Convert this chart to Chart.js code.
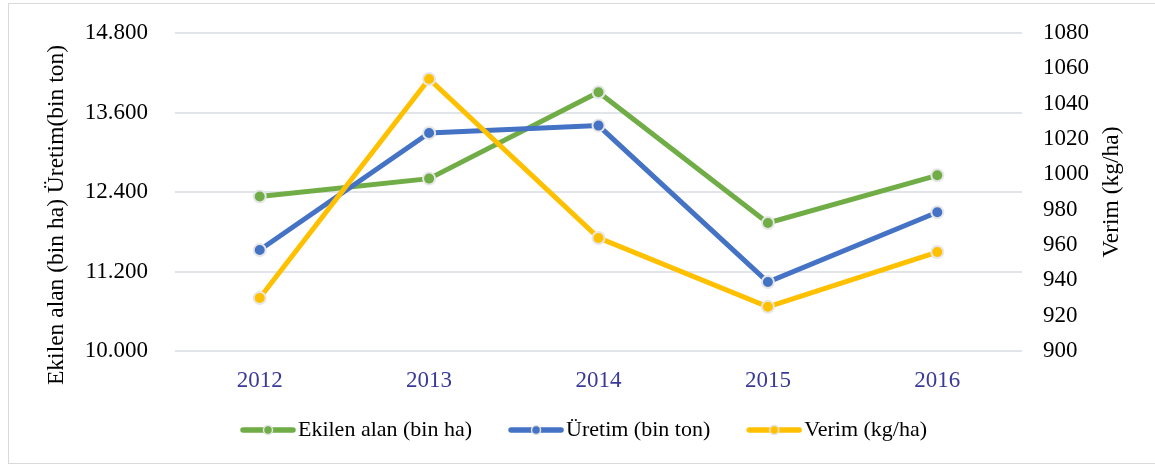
<!DOCTYPE html>
<html>
<head>
<meta charset="utf-8">
<script src="https://cdn.jsdelivr.net/npm/chart.js@4"></script>
<style>
  html, body { margin: 0; padding: 0; background: #fff; }
  #frame { position: absolute; left: 8px; top: 3px; width: 1160px; height: 461px; border: 1px solid #d9d9d9; box-sizing: border-box; }
  #wrap { position: absolute; left: 0; top: 0; width: 1155px; height: 466px; }
</style>
</head>
<body>
<div id="frame"></div>
<div id="wrap"><canvas id="c" width="1155" height="466"></canvas></div>
<script>
// data
var years = ['2012', '2013', '2014', '2015', '2016'];
var ekilenAlan = [12331, 12602, 13905, 11932, 12652];   // bin ha
var uretim = [11525, 13291, 13402, 11042, 12094];       // bin ton
var verim = [930, 1054, 964, 925, 956];                 // kg/ha
var seriesNames = ['Ekilen alan (bin ha)', 'Üretim (bin ton)', 'Verim (kg/ha)'];
var seriesColors = ['#70AD47', '#4472C4', '#FFC000'];
var leftTitle = 'Ekilen alan (bin ha) Üretim(bin ton)';
var rightTitle = 'Verim (kg/ha)';

var FONT = '"Liberation Serif", "Times New Roman", serif';

function dotted(v) {
  return String(Math.round(v)).replace(/\B(?=(\d{3})+(?!\d))/g, '.');
}

// legend sample: short thick line with a marker in the middle
function legendMark(color) {
  var c = document.createElement('canvas');
  c.width = 91; c.height = 16;
  var g = c.getContext('2d');
  g.strokeStyle = color; g.lineWidth = 5.5; g.lineCap = 'round';
  g.beginPath(); g.moveTo(38, 8); g.lineTo(88, 8); g.stroke();
  g.beginPath(); g.arc(63, 8, 4.5, 0, Math.PI * 2);
  g.fillStyle = color; g.fill();
  g.lineWidth = 1.5; g.strokeStyle = '#e4e4e4'; g.stroke();
  return c;
}
var marks = seriesColors.map(legendMark);

var axisTitles = {
  id: 'axisTitles',
  afterDraw: function (chart) {
    var ctx = chart.ctx;
    ctx.save();
    ctx.font = '23.5px ' + FONT;
    ctx.fillStyle = '#000';
    ctx.textAlign = 'center';
    ctx.textBaseline = 'middle';
    ctx.save();
    ctx.translate(57, 215);
    ctx.rotate(-Math.PI / 2);
    ctx.fillText(leftTitle, 0, 0);
    ctx.restore();
    ctx.translate(1112, 192);
    ctx.rotate(-Math.PI / 2);
    ctx.fillText(rightTitle, 0, 0);
    ctx.restore();
  }
};

function makeSet(i, data, axis, order) {
  return {
    label: seriesNames[i],
    data: data,
    yAxisID: axis,
    order: order,
    borderColor: seriesColors[i],
    backgroundColor: seriesColors[i],
    borderWidth: 5,
    pointRadius: 6,
    pointHoverRadius: 6,
    pointBorderWidth: 2,
    pointBorderColor: '#e6e6e6',
    pointBackgroundColor: seriesColors[i],
    tension: 0
  };
}

new Chart(document.getElementById('c'), {
  type: 'line',
  data: {
    labels: years,
    datasets: [
      makeSet(0, ekilenAlan, 'y', 3),
      makeSet(1, uretim, 'y', 2),
      makeSet(2, verim, 'y2', 1)
    ]
  },
  options: {
    responsive: false,
    animation: false,
    layout: { padding: { top: 33, left: -14, right: 0, bottom: 15 } },
    plugins: {
      tooltip: { enabled: false },
      legend: {
        position: 'bottom',
        labels: {
          usePointStyle: true,
          pointStyleWidth: 73,
          padding: 10,
          color: '#000',
          font: { family: FONT, size: 22 },
          sort: function (a, b) { return a.datasetIndex - b.datasetIndex; },
          generateLabels: function (chart) {
            var items = Chart.defaults.plugins.legend.labels.generateLabels(chart);
            items.forEach(function (it) { it.pointStyle = marks[it.datasetIndex]; });
            return items;
          }
        }
      }
    },
    scales: {
      x: {
        offset: true,
        grid: { display: false, drawTicks: false },
        border: { display: false },
        ticks: { padding: 16, color: '#3a3a99', font: { family: FONT, size: 23 } },
        afterFit: function (s) { s.height = 58; }
      },
      y: {
        position: 'left',
        min: 10000, max: 14800,
        grid: { color: '#e1e4e9', lineWidth: 2, drawTicks: false },
        border: { display: false },
        ticks: {
          stepSize: 1200, padding: 27, color: '#000',
          font: { family: FONT, size: 23 },
          callback: function (v) { return dotted(v); }
        },
        afterFit: function (s) { s.width = 189; s.paddingTop = 0; s.paddingBottom = 0; }
      },
      y2: {
        position: 'right',
        min: 900, max: 1080,
        grid: { display: false, drawTicks: false },
        border: { display: false },
        ticks: {
          stepSize: 20, padding: 21, color: '#000',
          font: { family: FONT, size: 23 },
          callback: function (v) { return String(v); }
        },
        afterFit: function (s) { s.width = 133; s.paddingTop = 0; s.paddingBottom = 0; }
      }
    }
  },
  plugins: [axisTitles]
});
</script>
</body>
</html>
